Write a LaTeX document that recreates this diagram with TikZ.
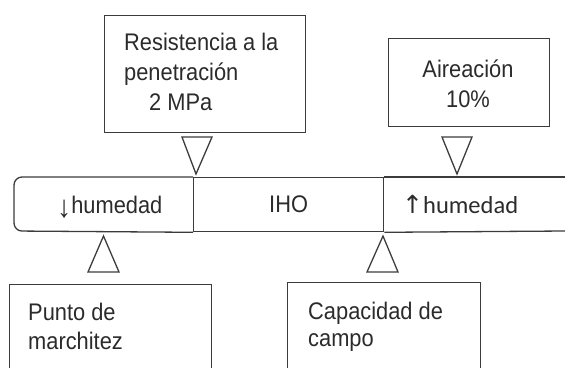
\documentclass[tikz,border=0pt]{standalone}
\usepackage{fontspec}
\setmainfont{Liberation Sans}[FakeStretch=0.91]
\newfontfamily\calfont{Carlito}
\newfontfamily\arrfont{DejaVu Sans}
\usetikzlibrary{positioning}
\definecolor{linegray}{HTML}{3C3C3C}
\definecolor{textgray}{HTML}{2B2B2B}

\begin{document}
\begin{tikzpicture}[x=1pt,y=-1pt,
		frame/.style={draw=linegray,line width=1.3pt},
		box/.style={frame,rectangle,inner sep=0pt,anchor=north west},
		tri/.style={frame,line join=miter},
		txt/.style={inner sep=0pt,anchor=base west,text=textgray,align=left,
			font=\fontsize{24}{30}\selectfont}]
		
		\useasboundingbox (0,0) rectangle (565,367);
		\clip (0,0) rectangle (565,367);
		
		% upper boxes
		\node[box,minimum width=201pt,minimum height=117pt] (resist) at (104,15) {};
		\node[box,minimum width=161pt,minimum height=88pt] (airea) at (388,38) {};
		\node[txt] (resisttxt) at (124,110) {Resistencia a la\\penetración\\\hspace*{25pt}2 MPa};
		\node[txt,align=center,anchor=base] (aireatxt) at (468,107) {Aireación\\10\%};
		
		% bar
		\node[box,minimum width=190pt,minimum height=54pt,text=textgray,
			font=\fontsize{24}{30}\selectfont] (iho) at (193,177) {IHO};
		\coordinate (barend top) at (565,177);
		\coordinate (barend bot) at (565,231);
		\draw[frame,rounded corners=8pt] (iho.north west) -- (14,177) -- (14,231) -- (iho.south west);
		\draw[frame] (iho.north east) -- (barend top);
		\draw[frame] (iho.south east) -- (barend bot);
		\node[txt] (lowhum) at (57,213) {\raisebox{-4pt}{\fontsize{31}{30}\selectfont↓}humedad};
		\node[txt] (highhum) at (402,213) {{\arrfont\fontsize{25}{30}\selectfont↑}{\calfont\fontsize{24.5}{30}\selectfont humedad}};
		
		% triangles
		\draw[tri] (182,137) -- (212,137) -- (196,174) -- cycle;
		\draw[tri] (442,137) -- (472,137) -- (457,174) -- cycle;
		\draw[tri] (88,272) -- (119,272) -- (103.5,236) -- cycle;
		\draw[tri] (367,272) -- (398,272) -- (383,236) -- cycle;
		
		% lower boxes
		\node[box,minimum width=202pt,minimum height=120pt] (wilt) at (9,284) {};
		\node[box,minimum width=193pt,minimum height=120pt] (field) at (287,282) {};
		\node[txt,font=\fontsize{24}{29}\selectfont] (wilttxt) at (28,349) {Punto de\\marchitez};
		\node[txt,font=\fontsize{24}{27}\selectfont] (fieldtxt) at (308,346) {Capacidad de\\campo};
\end{tikzpicture}
\end{document}
